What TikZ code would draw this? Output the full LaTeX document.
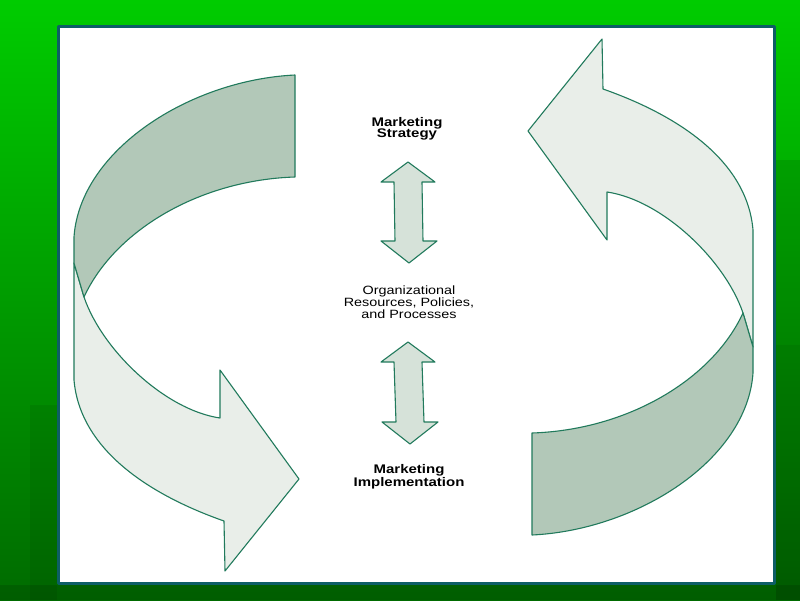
\documentclass[tikz,border=0pt]{standalone}
\usepackage{fontspec}
\usepackage{tikz}
\usetikzlibrary{calc}
\newfontfamily\labelfont[FakeStretch=1.2]{Liberation Sans}
\definecolor{slidetop}{rgb}{0.,0.80,0.}
\definecolor{slidebot}{rgb}{0.,0.42,0.}
\definecolor{framecol}{rgb}{0.05,0.37,0.40}
\definecolor{edgecol}{rgb}{0.13,0.48,0.36}
\definecolor{darkband}{rgb}{0.70,0.785,0.72}
\definecolor{lightband}{rgb}{0.915,0.935,0.915}
\definecolor{twowayfill}{rgb}{0.84,0.885,0.85}
\tikzset{band/.style={draw=edgecol,line width=1.1pt},
  twoway/.style={draw=edgecol,line width=1.1pt,fill=twowayfill},
  caption/.style={align=center,font=\labelfont\fontsize{12}{12}\selectfont},
  boldcaption/.style={align=center,font=\labelfont\bfseries\fontsize{12.5}{11.5}\selectfont}}
% double headed arrow between two named points
\newcommand{\dblarrow}[2]{%
  \draw[twoway] (#1) -- ($(#1)+(27,20)$) -- ($(#1)+(14,20)$) -- ($(#2)+(14,-22)$)
    -- ($(#2)+(28,-22)$) -- (#2) -- ($(#2)+(-28,-22)$) -- ($(#2)+(-14,-22)$)
    -- ($(#1)+(-14,20)$) -- ($(#1)+(-27,20)$) -- cycle;}
% one half of the circular ribbon
\newcommand{\ribbon}{%
  \draw[band,fill=lightband] (74,263) -- (74,380) .. controls (80,450) and (150,495) .. (224,521)
    -- (225,571) -- (299,479) -- (220,370) -- (220,418)
    .. controls (165,410) and (102,350) .. (84,297) -- cycle;
  \draw[band,fill=darkband] (295,75) .. controls (190,80) and (80,150) .. (74,237)
    -- (74,263) -- (84,297) .. controls (115,230) and (200,180) .. (295,177) -- cycle;}

\begin{document}
\begin{tikzpicture}[line cap=round,line join=round,x=1pt,y=-1pt]
            \useasboundingbox (0,0) rectangle (800,600);
            \shade[top color=slidetop,bottom color=slidebot] (0,0) rectangle (800,600);
            \fill[black,opacity=0.07] (30,405) rectangle (57,600);
            \fill[black,opacity=0.10] (776,160) rectangle (800,600);
            \fill[black,opacity=0.06] (776,345) rectangle (800,600);
            \fill[black,opacity=0.12] (0,585) rectangle (800,600);
            \draw[framecol,line width=3pt,fill=white] (58.5,26.5) rectangle (774.5,583.5);

            \ribbon
            \begin{scope}[rotate around={180:(413.5,305)}]
            \ribbon
            \end{scope}

            \node[boldcaption] (strat) at (407,129) {Marketing\\Strategy};
            \node[caption] (org) at (409,302) {Organizational\\Resources, Policies,\\and Processes};
            \node[boldcaption] (impl) at (409,477) {Marketing\\Implementation};

            \coordinate (s1) at (408,162);
            \coordinate (s2) at (409,263);
            \coordinate (i1) at (408,342);
            \coordinate (i2) at (410,444);
            \dblarrow{s1}{s2}
            \dblarrow{i1}{i2}
            \end{tikzpicture}
\end{document}
